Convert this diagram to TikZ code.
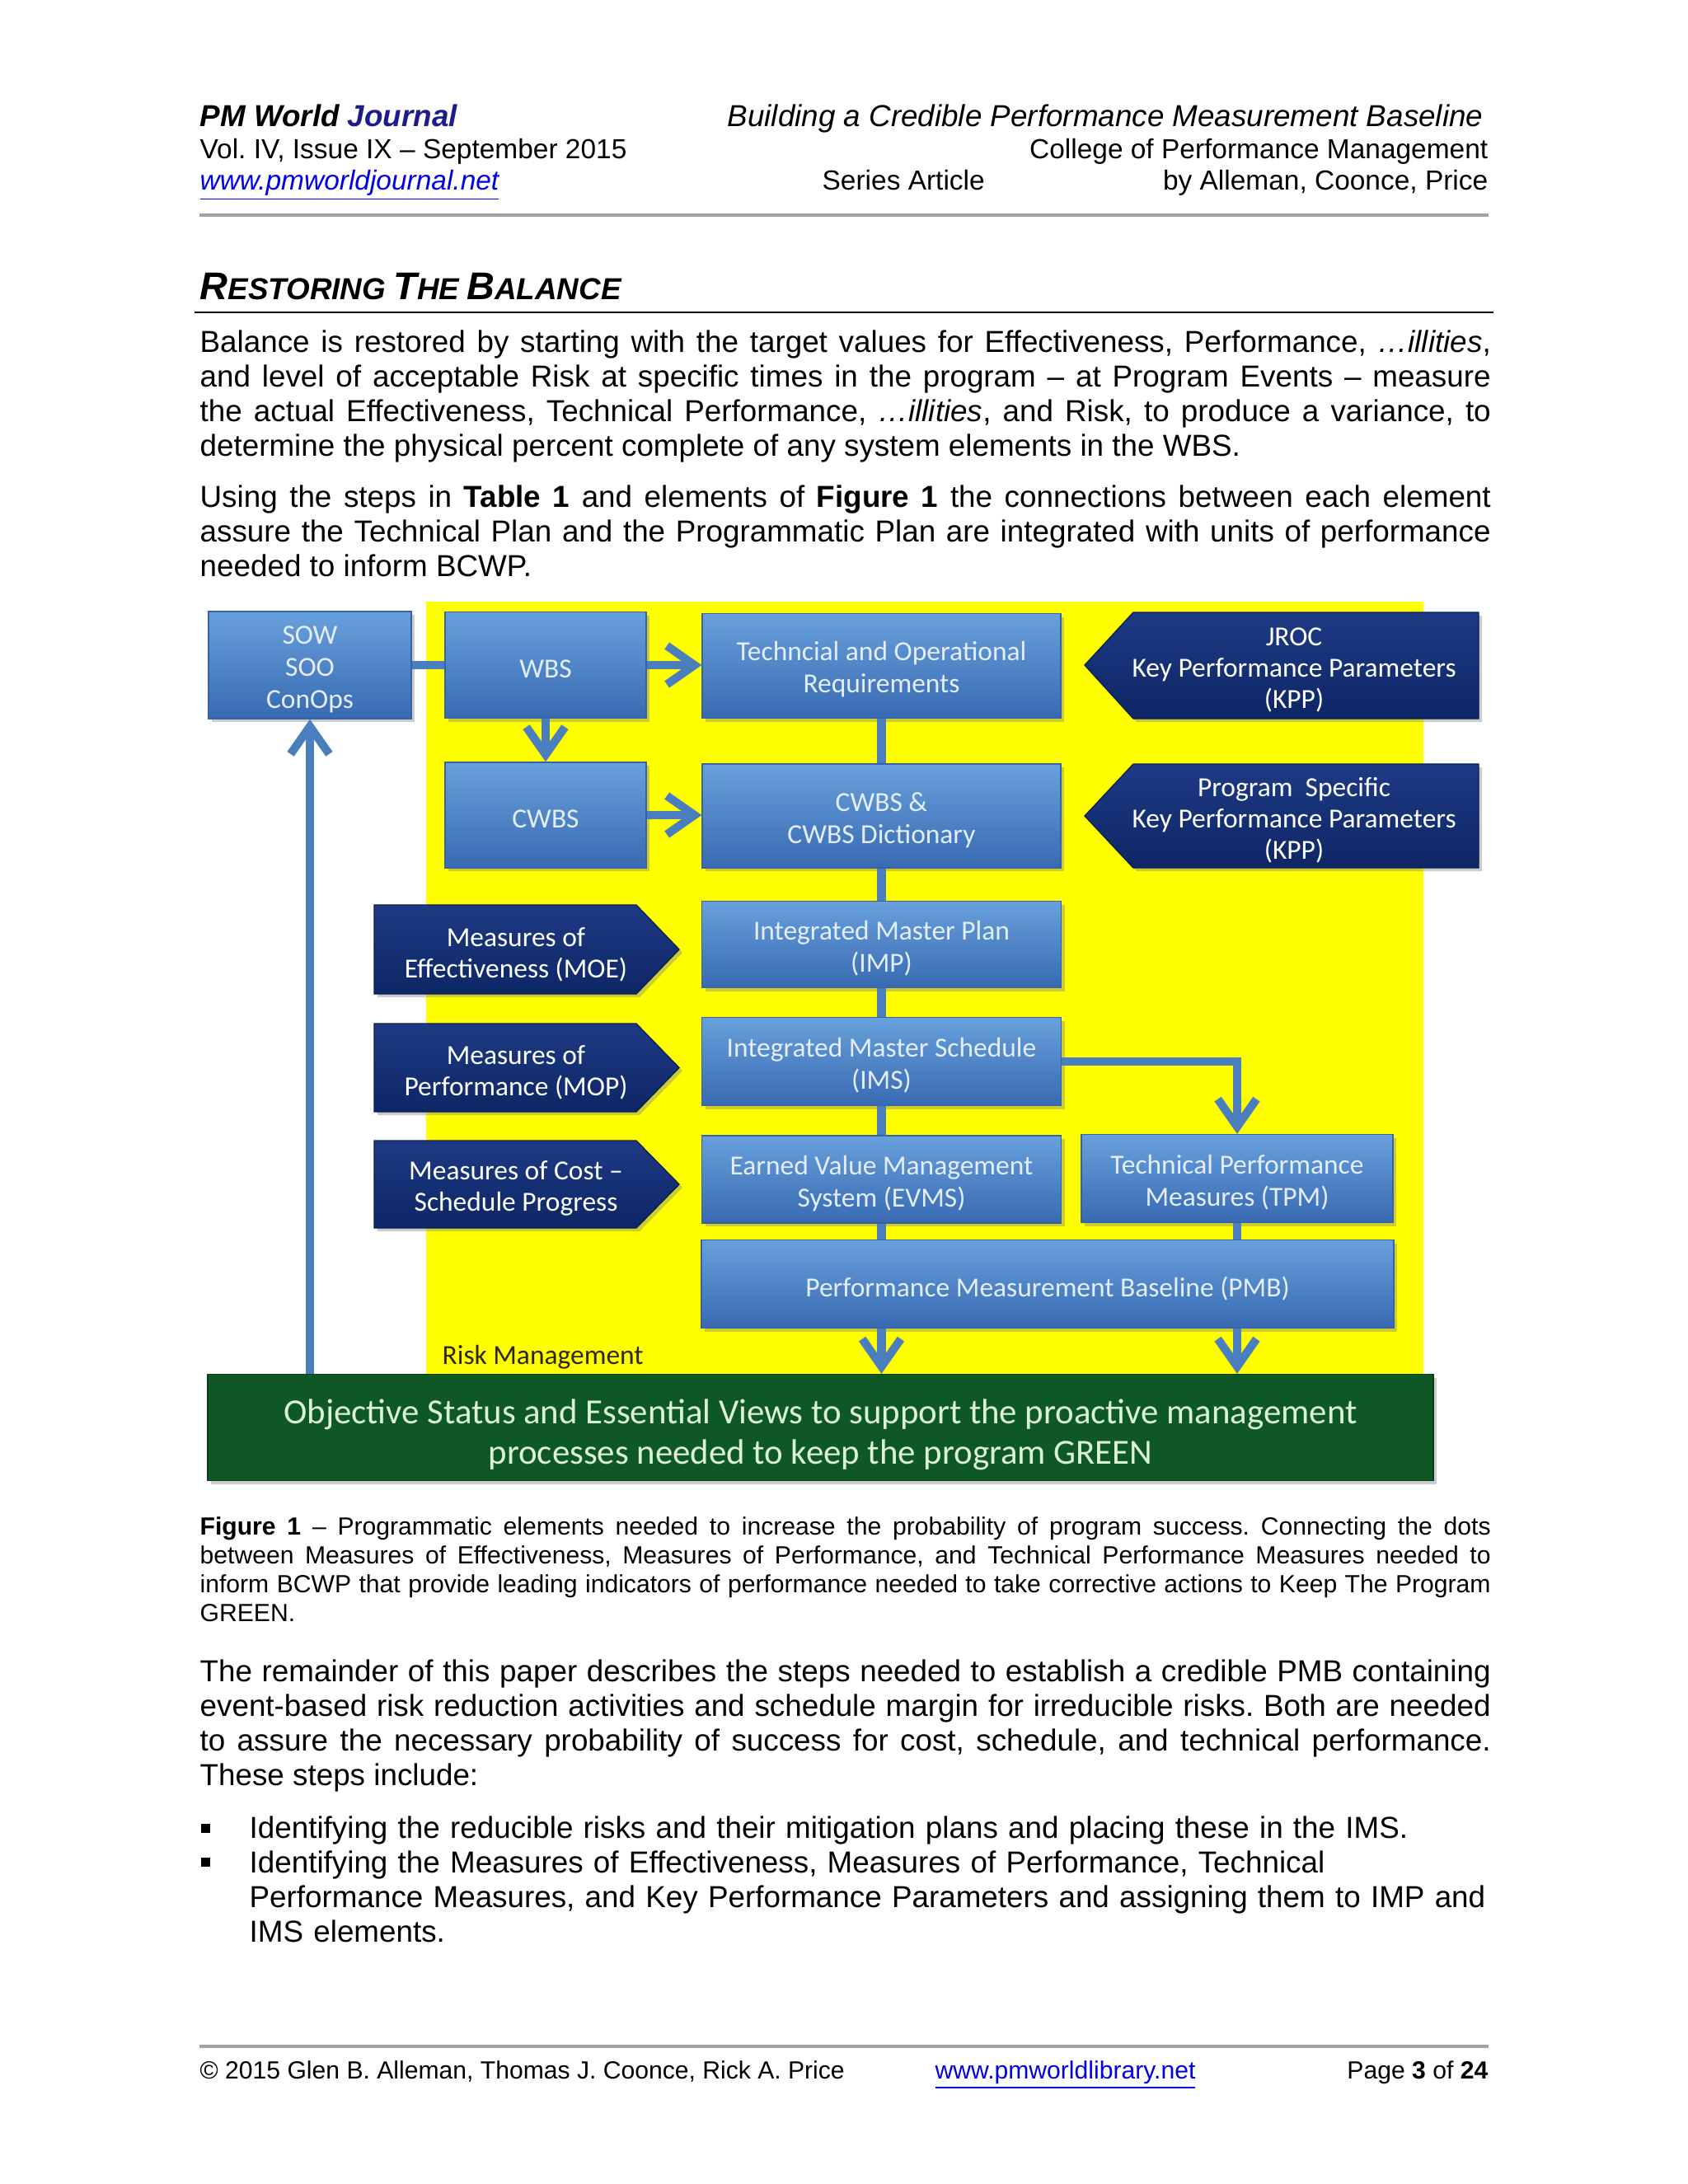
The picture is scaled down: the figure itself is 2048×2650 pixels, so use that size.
\documentclass[tikz,border=0pt]{standalone}
\usepackage{fontspec}
\setmainfont{Liberation Sans}
\newfontfamily\figfont{Carlito}
\usetikzlibrary{arrows.meta,shadows,calc}
\frenchspacing
\newcommand\pxu{0.29883pt}
\newcommand\boxlines[2][3.6pt]{\raisebox{0pt}[\dimexpr\height+#1\relax][\depth]{\begin{tabular}{@{}c@{}}#2\end{tabular}}}
\definecolor{boxtop}{RGB}{104,160,220}
\definecolor{boxbot}{RGB}{56,106,178}
\definecolor{boxline}{RGB}{58,98,160}
\definecolor{navymain}{RGB}{14,38,102}
\definecolor{navytop}{RGB}{30,58,132}
\definecolor{conncol}{RGB}{74,126,190}
\definecolor{ylw}{RGB}{255,255,0}
\definecolor{grnfill}{RGB}{14,88,38}
\definecolor{grntext}{RGB}{220,242,214}
\definecolor{boxtext}{RGB}{228,237,250}
\definecolor{rulegray}{RGB}{160,160,160}
\definecolor{linkblue}{RGB}{0,0,230}
\definecolor{journal}{RGB}{28,28,140}
\definecolor{riskcol}{RGB}{45,38,10}
\begin{document}
\begin{tikzpicture}[x=0.29883pt,y=-0.29883pt]
\tikzset{
  sz/.style 2 args={minimum width=#1*\pxu, minimum height=#2*\pxu},
  shadowed/.style={drop shadow={opacity=0.4, shadow xshift=1.2pt, shadow yshift=-1.2pt}},
  bluebox/.style={draw=boxline, line width=0.4pt, top color=boxtop, bottom color=boxbot, text=boxtext, font=\figfont\fontsize{10}{11.65}\selectfont, inner sep=0pt, shadowed},
  navyshape/.style={draw=navymain!80!black, line width=0.4pt, top color=navytop, bottom color=navymain, shadowed},
  navytext/.style={text=white, font=\figfont\fontsize{10}{11.4}\selectfont, align=center, inner sep=0pt},
  greenbox/.style={draw=grnfill!70!black, line width=0.4pt, fill=grnfill, text=grntext, font=\figfont\fontsize{12.8}{14.65}\selectfont, inner sep=0pt, shadowed},
  conn/.style={draw=conncol, line width=3pt},
  connarrow/.style={conn, -{Straight Barb[length=10pt,width=14pt]}},
  bodytext/.style={anchor=base west, inner sep=0pt, text width=468pt, align=justify, font=\fontsize{11}{12.63}\selectfont\frenchspacing},
  hdr/.style={inner sep=0pt, font=\fontsize{10}{11.5}\selectfont},
  ftr/.style={inner sep=0pt, font=\fontsize{9}{11}\selectfont},
}
\useasboundingbox (0,0) rectangle (2048,2650);
\fill[white] (0,0) rectangle (2048,2650);

% ---------- header ----------
\node[hdr, anchor=base west, font=\fontsize{11}{13}\selectfont\bfseries\itshape] (h1l) at (242,153) {PM World \textcolor{journal}{Journal}};
\node[hdr, anchor=base east, font=\fontsize{11}{13}\selectfont\itshape] (h1r) at (1800,153) {Building a Credible Performance Measurement Baseline};
\node[hdr, anchor=base west] (h2l) at (242,192) {Vol. IV, Issue IX – September 2015};
\node[hdr, anchor=base east] (h2r) at (1806,192) {College of Performance Management};
\node[hdr, anchor=base west, text=linkblue, font=\fontsize{10}{11.5}\selectfont\itshape] (h3l) at (242,230) {\underline{www.pmworldjournal.net}};
\node[hdr, anchor=base west] (h3m) at (997,230) {Series Article};
\node[hdr, anchor=base east] (h3r) at (1806,230) {by Alleman, Coonce, Price};
\draw[rulegray, line width=1.4pt] (242,261) -- (1806,261);

% ---------- section title ----------
\node[inner sep=0pt, anchor=base west, font=\bfseries\itshape] (sec) at (242,363)
  {{\fontsize{14}{16}\selectfont R}{\fontsize{11}{13}\selectfont ESTORING} {\fontsize{14}{16}\selectfont T}{\fontsize{11}{13}\selectfont HE} {\fontsize{14}{16}\selectfont B}{\fontsize{11}{13}\selectfont ALANCE}};
\draw[black, line width=0.7pt] (236,379) -- (1812,379);

% ---------- paragraphs ----------
\node[bodytext] (p1) at (242,427) {Balance is restored by starting with the target values for Effectiveness, Performance, \textit{…illities},\linebreak and level of acceptable Risk at specific times in the program – at Program Events – measure\linebreak the actual Effectiveness, Technical Performance, \textit{…illities}, and Risk, to produce a variance, to\linebreak determine the physical percent complete of any system elements in the WBS.};
\node[bodytext] (p2) at (242,615) {Using the steps in \textbf{Table 1} and elements of \textbf{Figure 1} the connections between each element\linebreak assure the Technical Plan and the Programmatic Plan are integrated with units of performance\linebreak needed to inform BCWP.};

% ---------- figure ----------
\fill[ylw] (517,730) rectangle (1727,1668);
\node[anchor=west, inner sep=0pt, text=riskcol, font=\figfont\fontsize{10}{12}\selectfont] (risk) at (536,1647) {Risk Management};

\node[bluebox, sz={246}{130}] (sow) at (376,807) {\boxlines{SOW\\SOO\\ConOps}};
\node[bluebox, sz={244}{129}] (wbs) at (662,807) {\boxlines[4.6pt]{WBS}};
\node[bluebox, sz={435}{127}] (tech) at (1069.5,808) {\boxlines[3pt]{Techncial and Operational\\Requirements}};
\node[bluebox, sz={244}{128}] (cwbs) at (662,989) {\boxlines[4.6pt]{CWBS}};
\node[bluebox, sz={435}{126}] (cwbsd) at (1069.5,990) {\boxlines{CWBS \&\\CWBS Dictionary}};
\node[bluebox, sz={436}{105}] (imp) at (1069.5,1146) {\boxlines{Integrated Master Plan\\(IMP)}};
\node[bluebox, sz={436}{107}] (ims) at (1069.5,1288) {\boxlines{Integrated Master Schedule\\(IMS)}};
\node[bluebox, sz={436}{106}] (evms) at (1069.5,1431) {\boxlines{Earned Value Management\\System (EVMS)}};
\node[bluebox, sz={378}{107}] (tpm) at (1501,1430) {\boxlines{Technical Performance\\Measures (TPM)}};
\node[bluebox, sz={840}{107}] (pmb) at (1271,1558) {\boxlines[4.6pt]{Performance Measurement Baseline (PMB)}};
\node[greenbox, sz={1487}{129}] (grn) at (995.5,1732) {\boxlines[6.2pt]{Objective Status and Essential Views to support the proactive management\\processes needed to keep the program GREEN}};

% pentagons pointing left (KPP)
\path[navyshape] (1316,807) -- (1375,743) -- (1794,743) -- (1794,872) -- (1375,872) -- cycle;
\node[navytext] (jroc) at (1570,813) {JROC\\Key Performance Parameters\\(KPP)};
\path[navyshape] (1316,990) -- (1375,927) -- (1794,927) -- (1794,1053) -- (1375,1053) -- cycle;
\node[navytext] (pkpp) at (1570,995) {Program\ \ Specific\\Key Performance Parameters\\(KPP)};

% pentagons pointing right (measures)
\path[navyshape] (454,1098) -- (772,1098) -- (824,1152) -- (772,1206) -- (454,1206) -- cycle;
\node[navytext] (moe) at (626,1158) {Measures of\\Effectiveness (MOE)};
\path[navyshape] (454,1242) -- (772,1242) -- (824,1295.5) -- (772,1349) -- (454,1349) -- cycle;
\node[navytext] (mop) at (626,1301) {Measures of\\Performance (MOP)};
\path[navyshape] (454,1384) -- (772,1384) -- (824,1437) -- (772,1490) -- (454,1490) -- cycle;
\node[navytext] (moc) at (626,1442) {Measures of Cost –\\Schedule Progress};

% connectors
\draw[conn] (sow) -- (wbs);
\draw[connarrow] (wbs.east) -- (wbs.east -| tech.west);
\draw[connarrow] (wbs) -- (cwbs);
\draw[connarrow] (cwbs.east) -- (cwbs.east -| cwbsd.west);
\draw[conn] (tech) -- (cwbsd);
\draw[conn] (cwbsd) -- (imp);
\draw[conn] (imp) -- (ims);
\draw[conn] (ims) -- (evms);
\draw[conn] (evms.south) -- (evms.south |- pmb.north);
\draw[conn] (tpm.south) -- (tpm.south |- pmb.north);
\draw[connarrow] (ims.east) -| (tpm.north);
\draw[connarrow] (evms.south |- pmb.south) -- (evms.south |- grn.north);
\draw[connarrow] (tpm.south |- pmb.south) -- (tpm.south |- grn.north);
\draw[connarrow] (sow.south |- grn.north) -- (sow.south);

% ---------- caption ----------
\node[bodytext, font=\fontsize{9}{10.46}\selectfont\frenchspacing] (cap) at (242,1862) {\textbf{Figure 1} – Programmatic elements needed to increase the probability of program success. Connecting the dots\linebreak between Measures of Effectiveness, Measures of Performance, and Technical Performance Measures needed to\linebreak inform BCWP that provide leading indicators of performance needed to take corrective actions to Keep The Program\linebreak GREEN.};

\node[bodytext] (p3) at (242,2040) {The remainder of this paper describes the steps needed to establish a credible PMB containing\linebreak event-based risk reduction activities and schedule margin for irreducible risks. Both are needed\linebreak to assure the necessary probability of success for cost, schedule, and technical performance.\linebreak These steps include:};

% bullets
\node[fill=black, inner sep=0pt, minimum size=11*\pxu] (b1) at (249.5,2218) {};
\node[fill=black, inner sep=0pt, minimum size=11*\pxu] (b2) at (249.5,2259) {};
\node[bodytext, text width=449pt, align=left] (l1) at (302,2230) {Identifying the reducible risks and their mitigation plans and placing these in the IMS.};
\node[bodytext, text width=449pt, align=left] (l2) at (302,2272) {Identifying the Measures of Effectiveness, Measures of Performance, Technical\\Performance Measures, and Key Performance Parameters and assigning them to IMP and\\IMS elements.};

% ---------- footer ----------
\draw[rulegray, line width=1.4pt] (242,2483) -- (1806,2483);
\node[ftr, anchor=base west] (f1) at (242,2522) {© 2015 Glen B. Alleman, Thomas J. Coonce, Rick A. Price};
\node[ftr, anchor=base west, text=linkblue] (f2) at (1134,2522) {\underline{www.pmworldlibrary.net}};
\node[ftr, anchor=base east] (f3) at (1806,2522) {Page \textbf{3} of \textbf{24}};
\end{tikzpicture}
\end{document}
